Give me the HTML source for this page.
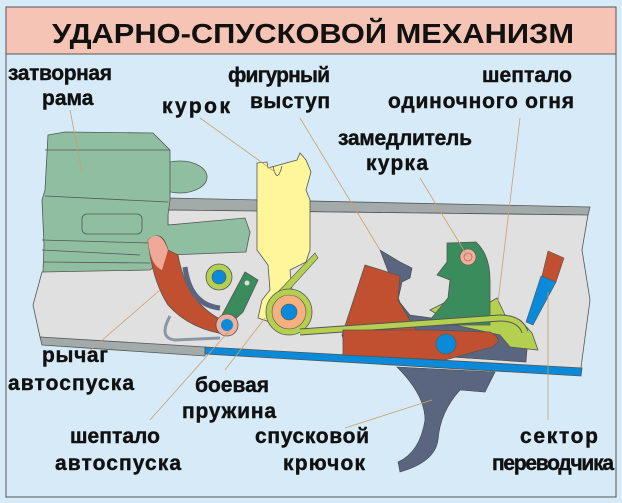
<!DOCTYPE html>
<html><head><meta charset="utf-8"><style>
html,body{margin:0;padding:0;background:#d6ebf7;}
svg{display:block;}
text{font-family:"Liberation Sans",sans-serif;font-weight:bold;fill:#111;}
</style></head><body>
<svg width="622" height="503" viewBox="0 0 622 503" xmlns="http://www.w3.org/2000/svg">
<rect x="0" y="0" width="622" height="503" fill="#d6ebf7"/>
<rect x="6" y="7" width="610" height="490" fill="#d6ebf7" stroke="#555" stroke-width="1"/>
<rect x="6" y="7" width="610" height="47" fill="#f5c4b4" stroke="#555" stroke-width="1"/>
<text x="313" y="43" font-size="28" text-anchor="middle" textLength="522" lengthAdjust="spacingAndGlyphs">УДАРНО-СПУСКОВОЙ МЕХАНИЗМ</text>

<!-- receiver -->
<polygon points="168,198 590,207 588,215 168,210" fill="#a3abaa" stroke="#555" stroke-width="0.8"/>
<polygon points="168,210 588,215 582,250 590,300 580,375 205,352 40,337 33,305 42,272 150,260 168,250" fill="#e0e0e0" stroke="#555" stroke-width="0.8"/>
<polygon points="40,337 205,347 205,356 42,345" fill="#a3abaa" stroke="#555" stroke-width="0.8"/>
<polygon points="205,347 582,368 581,376 205,354" fill="#0a8ad8" stroke="#555" stroke-width="0.8"/>

<!-- bolt carrier -->
<g fill="#8fbfa0" stroke="#555" stroke-width="0.8">
<ellipse cx="180" cy="177" rx="27" ry="16"/>
<polygon points="48,135 65,132 153,133 170,150 170,200 168,215 168,225 245,218 250,232 246,252 168,255 150,270 43,272 44,245 42,200 45,190"/>
<line x1="45" y1="150" x2="170" y2="150"/>
<line x1="45" y1="196" x2="168" y2="202"/>
<rect x="82" y="214" width="60" height="20" rx="5"/>
<line x1="42" y1="240" x2="150" y2="243"/>
<line x1="42" y1="250" x2="140" y2="255"/>
<line x1="44" y1="262" x2="150" y2="263"/>
</g>

<!-- hammer -->
<path d="M257,163 L267,162 L268,168 L297,160 L300,153 L306,160 L311,172 L306,190 L310,200 L310,250 L306,262 L290,270 L292,290 L270,322 L258,318 L262,300 L270,290 L268,265 L257,250 Z" fill="#fff59a" stroke="#555" stroke-width="0.8"/>
<path d="M273,166 Q277,185 282,166" fill="none" stroke="#555" stroke-width="0.8"/>
<polygon points="275,295 315,253 318,258 280,300" fill="#b5d050" stroke="#555" stroke-width="0.6"/>

<!-- lever red -->
<path d="M148,240 Q162,228 168,250 L178,255 Q186,300 218,318 L230,335 Q190,330 168,305 Q152,280 148,240 Z" fill="#c05030" stroke="#555" stroke-width="0.8"/>
<path d="M148,240 Q160,228 168,250 L162,270 Q150,265 148,240 Z" fill="#f0a898"/>
<path d="M185,267 Q190,305 220,308" fill="none" stroke="#5a6680" stroke-width="5"/>
<path d="M170,316 Q158,338 175,340 L220,338" fill="none" stroke="#8a96a8" stroke-width="3"/>
<circle cx="219" cy="277" r="13" fill="#b5d050" stroke="#555" stroke-width="0.8"/>
<circle cx="219" cy="277" r="7" fill="#0a8ad8" stroke="#555" stroke-width="0.6"/>
<polygon points="245,272 258,280 243,312 232,322 222,315" fill="#3a8c5c" stroke="#555" stroke-width="0.8"/>
<circle cx="247" cy="283" r="2.5" fill="#ddd"/>
<circle cx="227" cy="325" r="11" fill="#f0b0a0" stroke="#555" stroke-width="0.8"/>
<circle cx="227" cy="325" r="6" fill="#0a8ad8"/>
<circle cx="289" cy="312" r="23" fill="#b5d050" stroke="#555" stroke-width="0.8"/>
<circle cx="289" cy="312" r="17" fill="#f5b080" stroke="#555" stroke-width="0.6"/>
<circle cx="289" cy="312" r="8" fill="#0a8ad8" stroke="#555" stroke-width="0.6"/>

<!-- disconnector gray -->
<path d="M380,250 L400,262 L412,268 L410,278 L402,282 L398,300 L410,315 L520,330 L528,337 L526,362 L420,355 Z" fill="#5a6680" stroke="#444" stroke-width="0.6"/>
<polygon points="365,265 400,276 398,300 410,320 420,335 345,345 342,335" fill="#c05030" stroke="#555" stroke-width="0.8"/>
<path d="M397,367 L495,372 L485,392 L460,390 Q440,412 438,440 Q435,462 400,472 L398,462 Q420,452 425,420 Q425,395 397,367 Z" fill="#5a6680" stroke="#444" stroke-width="0.6"/>
<path d="M430,310 L470,290 L485,305 L497,298 L505,315 L520,320 L532,333 L538,350 L510,347 L500,335 L455,325 Z" fill="#b5d050" stroke="#555" stroke-width="0.8"/>
<path d="M447,243 L476,242 Q490,255 490,280 L490,325 L445,325 L430,320 L448,298 L450,280 L437,275 L447,262 Z" fill="#3a8c5c" stroke="#555" stroke-width="0.8"/>
<circle cx="468" cy="257" r="8" fill="#f0b0a0" stroke="#555" stroke-width="0.6"/>
<circle cx="468" cy="257" r="4" fill="none" stroke="#c06050" stroke-width="0.8"/>
<path d="M300,332 L500,318 Q520,318 525,332" fill="none" stroke="#555" stroke-width="7"/>
<path d="M300,332 L500,318 Q520,318 525,332" fill="none" stroke="#b5d050" stroke-width="5"/>
<path d="M343,330 L430,330 L490,332 Q505,340 492,347 L445,360 L343,355 Z" fill="#c05030" stroke="#555" stroke-width="0.8"/>
<circle cx="446" cy="344" r="10" fill="#0a8ad8" stroke="#555" stroke-width="0.6"/>
<polygon points="548,251 564,258 556,282 542,276" fill="#c05030" stroke="#555" stroke-width="0.6"/>
<polygon points="541,276 556,282 533,325 526,322" fill="#0a8ad8" stroke="#555" stroke-width="0.6"/>

<g stroke="#c8a070" stroke-width="0.8">
<line x1="70" y1="110" x2="82" y2="172"/>
<line x1="200" y1="118" x2="275" y2="172"/>
<line x1="300" y1="118" x2="380" y2="250"/>
<line x1="420" y1="178" x2="468" y2="257"/>
<line x1="520" y1="118" x2="498" y2="302"/>
<line x1="85" y1="355" x2="160" y2="290"/>
<line x1="225" y1="370" x2="265" y2="318"/>
<line x1="150" y1="420" x2="230" y2="330"/>
<line x1="345" y1="428" x2="432" y2="400"/>
<line x1="548" y1="420" x2="548" y2="292"/>
</g>

<g font-size="21" stroke="#111" stroke-width="0.4">
<text x="8" y="80" textLength="104">затворная</text>
<text x="42" y="105">рама</text>
<text x="162" y="113" textLength="68">курок</text>
<text x="228" y="82" textLength="102">фигурный</text>
<text x="250" y="108" textLength="80">выступ</text>
<text x="482" y="82" textLength="90">шептало</text>
<text x="388" y="108" textLength="186">одиночного огня</text>
<text x="338" y="145" textLength="134">замедлитель</text>
<text x="366" y="170" textLength="62">курка</text>
<text x="42" y="362" textLength="66">рычаг</text>
<text x="8" y="390" textLength="126">автоспуска</text>
<text x="195" y="392" textLength="74">боевая</text>
<text x="182" y="418" textLength="94">пружина</text>
<text x="70" y="443" textLength="90">шептало</text>
<text x="55" y="470" textLength="126">автоспуска</text>
<text x="255" y="443" textLength="114">спусковой</text>
<text x="283" y="470" textLength="82">крючок</text>
<text x="520" y="443" textLength="78">сектор</text>
<text x="492" y="470" textLength="122">переводчика</text>
</g>
</svg>
</body></html>
